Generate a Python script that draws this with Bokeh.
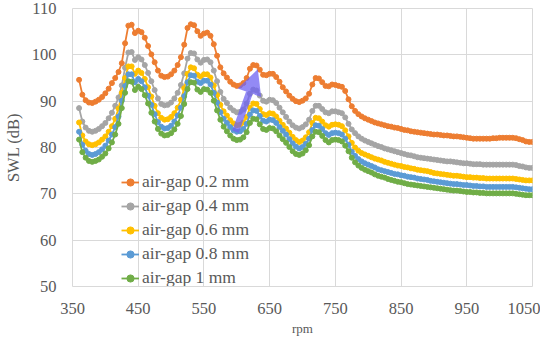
from bokeh.plotting import figure
from bokeh.models import FixedTicker, Range1d, Arrow, NormalHead, Legend
from bokeh.embed import file_html
from bokeh.resources import INLINE

rpm = list(range(360, 1055, 5))

gap_02 = [94.6, 91.4, 90.2, 89.7, 89.6, 89.9, 90.3, 90.9, 91.7, 92.7,
          93.9, 95.0, 96.3, 98.2, 102.5, 106.3, 106.5, 104.7, 105.2, 104.9,
          103.7, 101.9, 100.1, 98.4, 96.6, 95.5, 95.2, 95.3, 95.8, 96.6,
          97.8, 99.5, 102.2, 105.8, 106.6, 106.4, 105.1, 104.1, 104.6, 104.8,
          104.1, 102.3, 99.8, 97.3, 96.0, 95.1, 94.2, 93.6, 93.3, 93.4,
          93.9, 95.0, 97.0, 97.8, 97.7, 96.8, 95.7, 95.6, 95.9, 95.9,
          95.2, 94.2, 93.0, 92.1, 91.2, 90.5, 90.0, 89.8, 90.1, 90.6,
          91.6, 93.6, 95.0, 94.9, 94.1, 93.3, 93.2, 93.6, 93.5, 93.3,
          93.1, 92.2, 90.4, 88.9, 87.9, 87.2, 86.7, 86.3, 86.0, 85.7,
          85.4, 85.2, 85.0, 84.8, 84.6, 84.5, 84.3, 84.2, 84.0, 83.8,
          83.7, 83.5, 83.4, 83.3, 83.2, 83.1, 83.0, 82.9, 82.8, 82.8,
          82.7, 82.6, 82.6, 82.5, 82.4, 82.4, 82.3, 82.2, 82.1, 82.0,
          81.9, 81.9, 81.9, 81.9, 81.9, 81.9, 82.0, 82.0, 82.1, 82.1,
          82.1, 82.1, 82.1, 82.0, 81.8, 81.6, 81.3, 81.2, 81.2]

gap_04 = [88.5, 85.6, 84.3, 83.6, 83.4, 83.6, 84.0, 84.6, 85.3, 86.3,
          87.5, 89.0, 90.8, 93.4, 97.2, 100.5, 100.6, 98.9, 99.5, 99.0,
          97.8, 96.1, 94.3, 92.4, 90.6, 89.4, 89.1, 89.2, 89.7, 90.6,
          91.8, 93.5, 96.0, 99.2, 100.4, 100.3, 99.0, 98.3, 98.9, 99.0,
          98.4, 96.6, 94.3, 92.0, 90.5, 89.6, 88.6, 88.0, 87.6, 87.7,
          88.2, 89.5, 91.6, 92.5, 92.3, 91.2, 90.1, 89.9, 90.3, 90.2,
          89.6, 88.6, 87.6, 86.6, 85.6, 84.8, 84.3, 84.1, 84.4, 85.0,
          86.0, 87.9, 89.0, 89.0, 88.3, 87.6, 87.4, 87.8, 87.8, 87.6,
          87.4, 86.5, 85.1, 83.9, 83.1, 82.4, 81.9, 81.5, 81.2, 80.9,
          80.6, 80.3, 80.1, 79.8, 79.6, 79.4, 79.2, 79.0, 78.8, 78.6,
          78.4, 78.3, 78.1, 77.9, 77.8, 77.7, 77.6, 77.5, 77.4, 77.3,
          77.2, 77.1, 77.0, 77.0, 76.9, 76.8, 76.7, 76.6, 76.6, 76.5,
          76.4, 76.4, 76.4, 76.3, 76.3, 76.3, 76.3, 76.3, 76.3, 76.3,
          76.3, 76.3, 76.3, 76.2, 76.0, 75.9, 75.7, 75.6, 75.6]

gap_06 = [85.4, 82.6, 81.3, 80.7, 80.5, 80.7, 81.1, 81.7, 82.4, 83.4,
          84.6, 86.2, 88.4, 91.8, 95.0, 97.5, 97.5, 95.9, 96.6, 96.1,
          94.8, 93.0, 91.0, 89.0, 87.4, 86.4, 86.0, 86.1, 86.6, 87.4,
          88.6, 90.3, 92.8, 95.9, 97.3, 97.1, 95.7, 95.3, 95.8, 95.8,
          95.1, 93.4, 91.3, 89.2, 87.8, 86.9, 85.9, 85.2, 84.8, 84.9,
          85.4, 86.6, 88.6, 89.5, 89.4, 88.3, 87.2, 87.0, 87.4, 87.3,
          86.7, 85.8, 84.9, 84.1, 83.2, 82.3, 81.6, 81.2, 81.5, 82.2,
          83.3, 85.3, 86.4, 86.3, 85.6, 84.8, 84.5, 84.9, 85.0, 84.9,
          84.6, 83.7, 82.4, 81.0, 80.0, 79.3, 78.8, 78.5, 78.2, 77.9,
          77.6, 77.4, 77.2, 76.9, 76.7, 76.5, 76.3, 76.1, 76.0, 75.8,
          75.7, 75.5, 75.4, 75.2, 75.1, 75.0, 74.9, 74.7, 74.5, 74.4,
          74.3, 74.2, 74.1, 74.0, 73.9, 73.9, 73.8, 73.7, 73.6, 73.6,
          73.5, 73.5, 73.4, 73.4, 73.3, 73.3, 73.3, 73.3, 73.3, 73.3,
          73.3, 73.3, 73.3, 73.2, 73.1, 73.0, 72.9, 72.9, 72.9]

gap_08 = [83.4, 80.6, 79.3, 78.6, 78.4, 78.6, 79.0, 79.6, 80.4, 81.5,
          82.8, 84.4, 86.7, 90.1, 93.3, 95.8, 95.8, 94.1, 94.8, 94.3,
          93.0, 91.2, 89.2, 87.2, 85.5, 84.5, 84.1, 84.2, 84.7, 85.6,
          86.9, 88.6, 91.1, 94.1, 95.6, 95.5, 94.2, 93.9, 94.4, 94.4,
          93.6, 91.8, 89.7, 87.6, 86.2, 85.3, 84.4, 83.7, 83.4, 83.5,
          84.0, 85.1, 87.1, 88.0, 87.9, 86.8, 85.8, 85.6, 86.0, 85.9,
          85.3, 84.4, 83.6, 82.8, 81.8, 80.9, 80.2, 79.8, 80.1, 80.8,
          81.9, 83.8, 84.8, 84.7, 84.0, 83.1, 82.7, 83.1, 83.2, 83.1,
          82.8, 81.9, 80.6, 79.1, 78.2, 77.5, 77.0, 76.6, 76.3, 76.0,
          75.7, 75.3, 75.1, 74.9, 74.7, 74.5, 74.3, 74.2, 74.0, 73.9,
          73.7, 73.6, 73.5, 73.3, 73.2, 73.1, 73.0, 72.8, 72.7, 72.6,
          72.5, 72.4, 72.3, 72.2, 72.1, 72.1, 72.0, 71.9, 71.9, 71.8,
          71.7, 71.7, 71.6, 71.6, 71.5, 71.5, 71.5, 71.5, 71.5, 71.5,
          71.5, 71.5, 71.5, 71.4, 71.3, 71.2, 71.1, 71.0, 71.0]

gap_10 = [81.7, 79.0, 77.8, 77.1, 76.9, 77.1, 77.4, 78.0, 78.7, 79.8,
          81.1, 82.8, 85.1, 88.5, 91.8, 94.3, 94.2, 92.4, 93.1, 92.6,
          91.3, 89.5, 87.5, 85.6, 84.0, 83.0, 82.6, 82.7, 83.1, 83.9,
          85.1, 86.8, 89.4, 92.6, 94.1, 94.0, 92.5, 92.0, 92.6, 92.5,
          91.8, 90.1, 88.0, 86.0, 84.5, 83.5, 82.6, 81.9, 81.6, 81.7,
          82.2, 83.3, 85.3, 86.2, 86.1, 85.0, 84.0, 83.8, 84.2, 84.1,
          83.5, 82.6, 81.8, 81.0, 80.1, 79.2, 78.6, 78.4, 78.7, 79.4,
          80.5, 82.4, 83.4, 83.3, 82.5, 81.6, 81.1, 81.6, 81.7, 81.6,
          81.3, 80.4, 79.2, 77.8, 76.8, 76.1, 75.6, 75.2, 74.9, 74.6,
          74.2, 73.9, 73.7, 73.5, 73.2, 73.0, 72.8, 72.6, 72.5, 72.3,
          72.1, 72.0, 71.9, 71.8, 71.7, 71.6, 71.5, 71.4, 71.3, 71.2,
          71.1, 71.0, 70.9, 70.8, 70.7, 70.7, 70.6, 70.5, 70.4, 70.4,
          70.3, 70.3, 70.2, 70.2, 70.1, 70.1, 70.1, 70.1, 70.1, 70.1,
          70.1, 70.1, 70.1, 70.0, 69.9, 69.8, 69.7, 69.7, 69.7]

series_labels = ["air-gap 0.2 mm", "air-gap 0.4 mm", "air-gap 0.6 mm",
                 "air-gap 0.8 mm", "air-gap 1 mm"]
series_values = [gap_02, gap_04, gap_06, gap_08, gap_10]
series_colors = ["#ED7D31", "#A5A5A5", "#FFC000", "#5B9BD5", "#70AD47"]

x_ticks = [350, 450, 550, 650, 750, 850, 950, 1050]
y_ticks = [50, 60, 70, 80, 90, 100, 110]

arrow_start = (598, 83.4)
arrow_end = (632, 96.9)

for s in series_values:
    assert len(s) == len(rpm), len(s)

p = figure(width=527, height=327, output_backend="svg", toolbar_location=None,
           x_range=Range1d(350, 1050), y_range=Range1d(50, 110),
           frame_width=460, frame_height=278,
           min_border_left=59, min_border_right=8, min_border_top=8, min_border_bottom=41)
p.background_fill_color = "white"
p.border_fill_color = "white"
p.outline_line_color = "#D9D9D9"

legend_items = []
for lab, vals, col in zip(series_labels, series_values, series_colors):
    r1 = p.line(rpm, vals, line_color=col, line_width=1.8)
    r2 = p.scatter(rpm, vals, size=5, fill_color=col, line_color=col, marker="circle")
    legend_items.append((lab, [r1, r2]))

legend = Legend(items=legend_items, location=(49, -2), orientation="vertical",
                background_fill_alpha=0, border_line_color=None,
                padding=0, margin=0, spacing=3, glyph_width=18, glyph_height=20,
                label_height=20, label_standoff=3,
                label_text_font="Liberation Serif", label_text_font_size="17.5px",
                label_text_color="#595959")
p.add_layout(legend, "center")

p.add_layout(Arrow(end=NormalHead(size=25, fill_color="#6F63F2", fill_alpha=0.75,
                                  line_color=None),
                   x_start=arrow_start[0], y_start=arrow_start[1],
                   x_end=arrow_end[0], y_end=arrow_end[1],
                   line_color="#6F63F2", line_alpha=0.75, line_width=7))

for ax in (p.xaxis[0], p.yaxis[0]):
    ax.axis_line_color = None
    ax.major_tick_line_color = None
    ax.minor_tick_line_color = None
    ax.major_label_text_font = "Liberation Serif"
    ax.major_label_text_font_size = "16.5px"
    ax.major_label_text_color = "#595959"
    ax.axis_label_text_font = "Liberation Serif"
    ax.axis_label_text_font_style = "normal"
    ax.axis_label_text_color = "#595959"

p.xaxis.ticker = FixedTicker(ticks=x_ticks)
p.yaxis.ticker = FixedTicker(ticks=y_ticks)
p.xaxis.major_label_standoff = 10
p.yaxis.major_label_standoff = 10
p.xaxis.axis_label = "rpm"
p.xaxis.axis_label_text_font_size = "13px"
p.xaxis.axis_label_standoff = 4
p.yaxis.axis_label = "SWL (dB)"
p.yaxis.axis_label_text_font_size = "16.5px"
p.yaxis.axis_label_standoff = 6

p.xgrid.ticker = FixedTicker(ticks=x_ticks)
p.ygrid.ticker = FixedTicker(ticks=y_ticks)
p.xgrid.grid_line_color = "#D9D9D9"
p.ygrid.grid_line_color = "#D9D9D9"

open("out.html", "w").write(file_html(p, INLINE))
